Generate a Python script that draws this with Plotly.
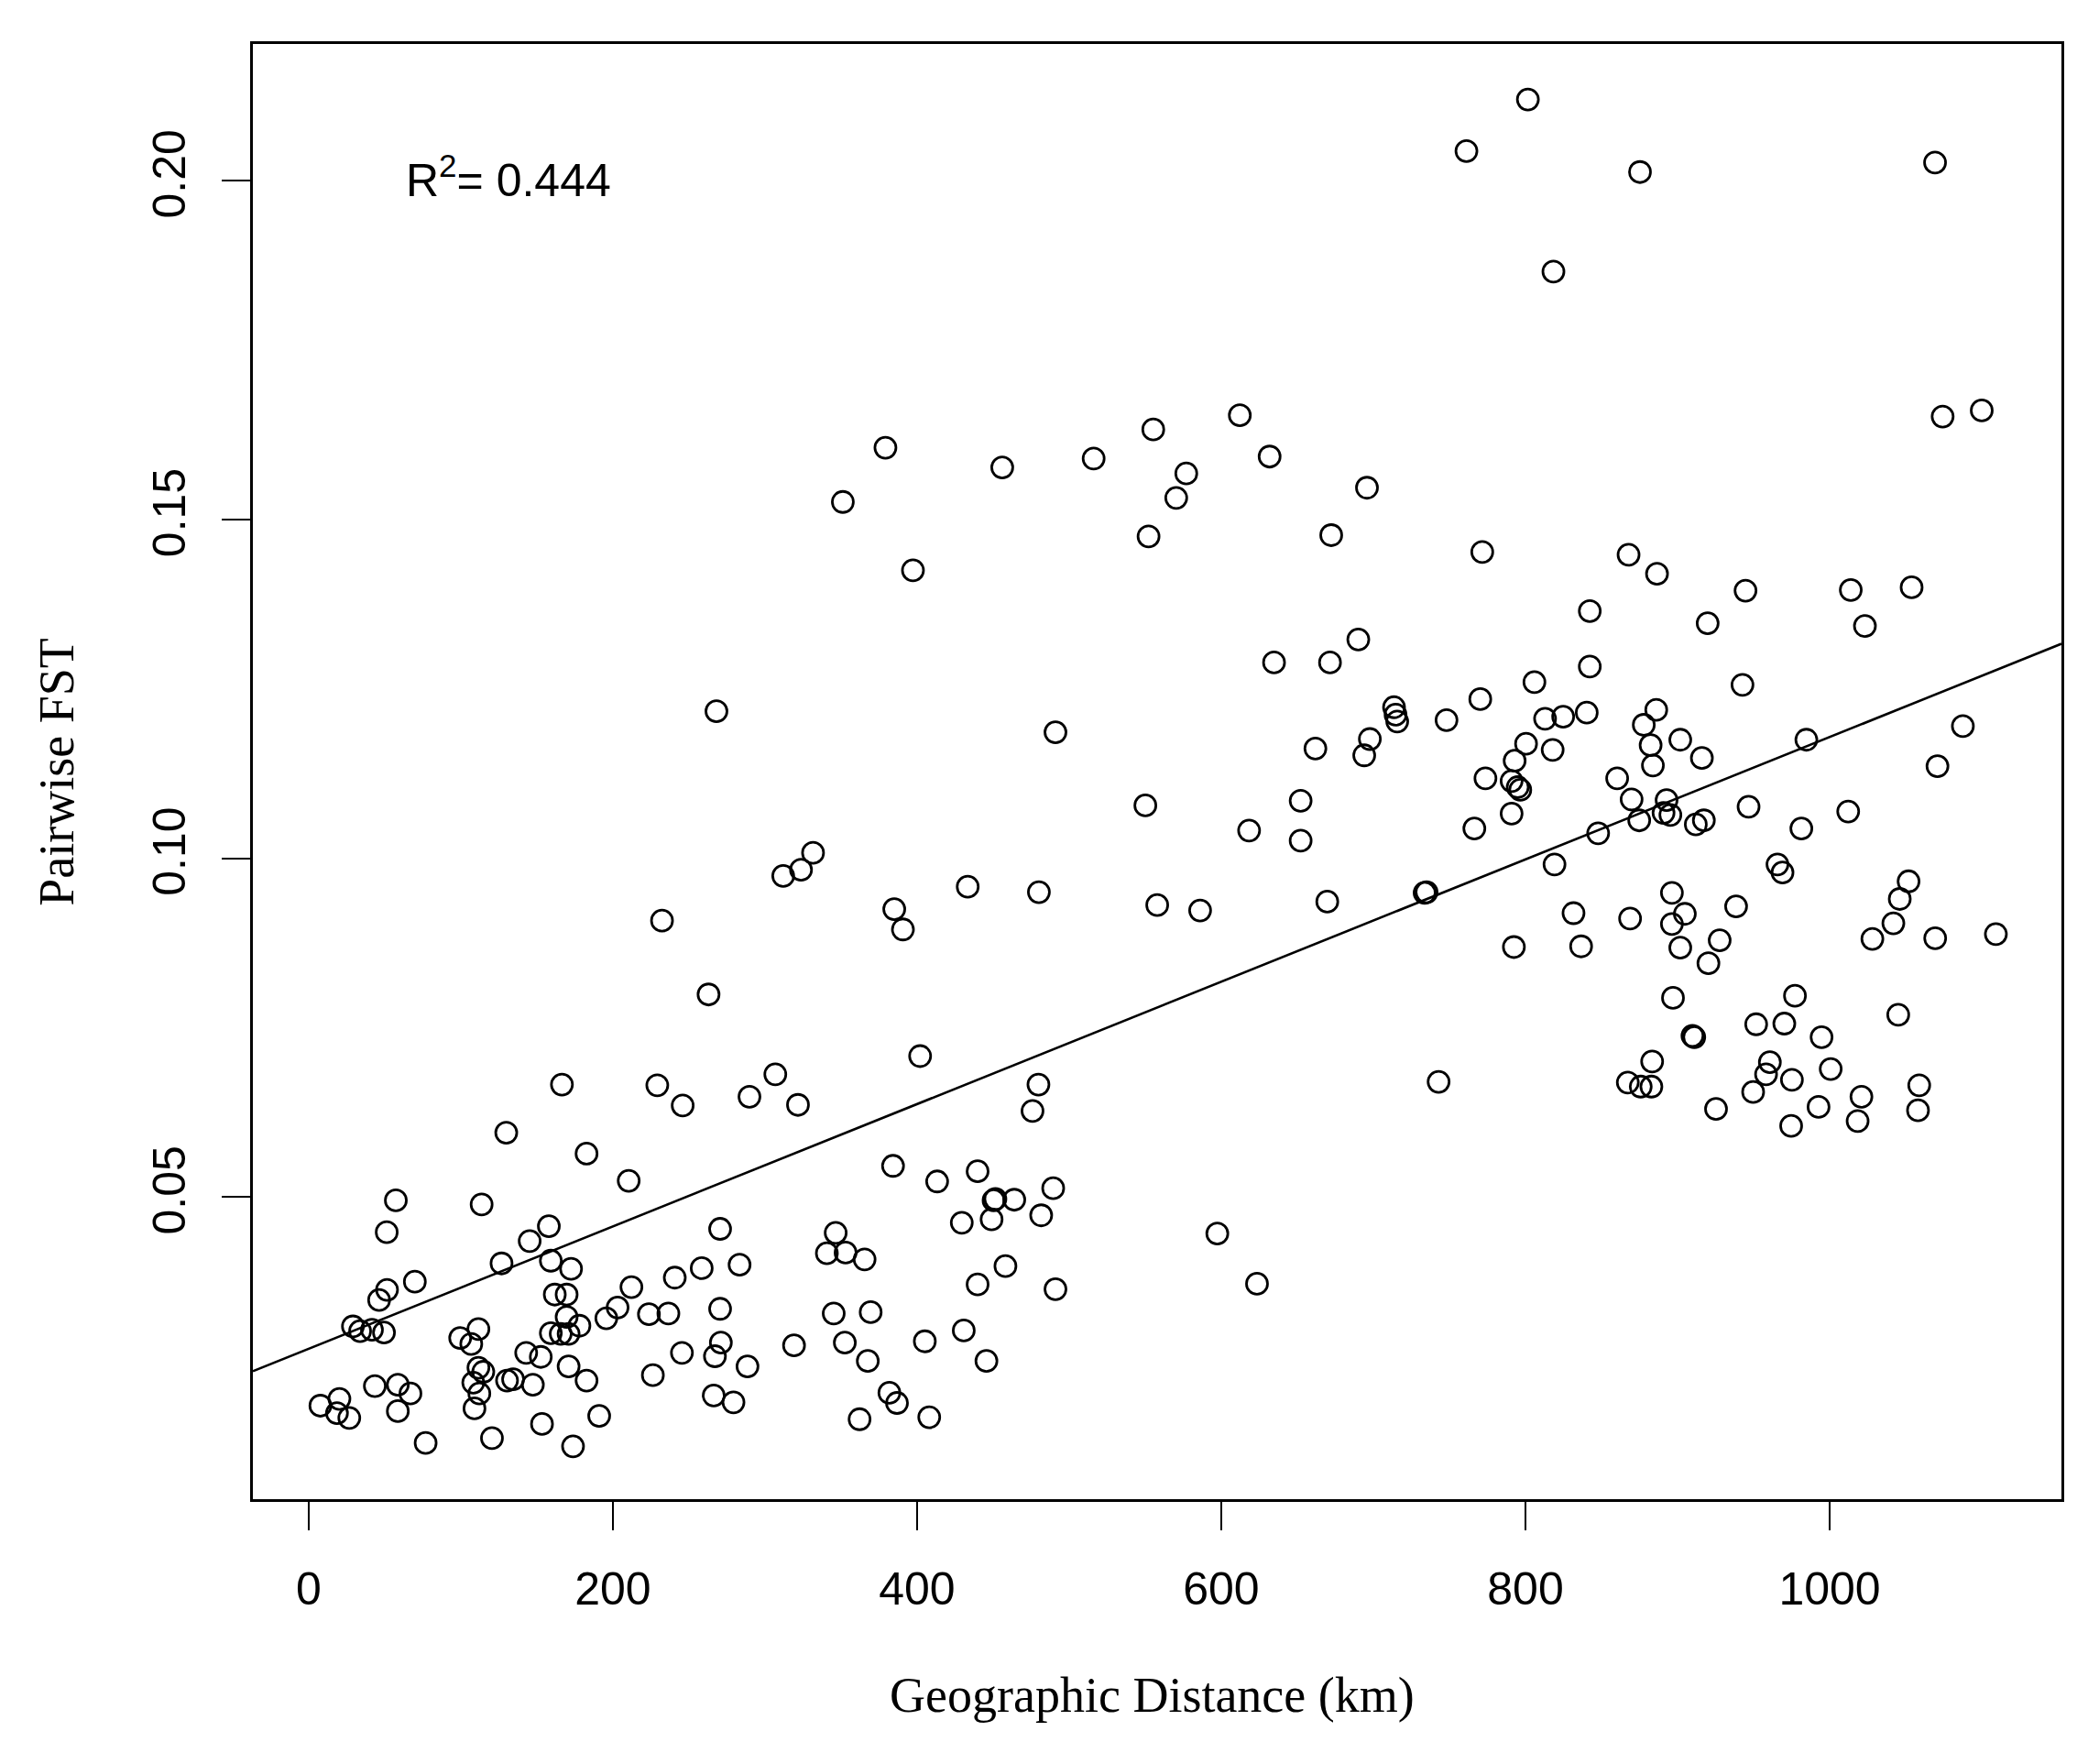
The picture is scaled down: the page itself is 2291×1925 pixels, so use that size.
import plotly.graph_objects as go

# Pairwise FST vs geographic distance
distance_km = [
    166.5, 229.2, 245.9, 289.8, 306.8, 321.7, 129.9, 182.7, 210.4, 57.3,
    113.7, 51.3, 157.9, 145.3, 126.8, 159.2, 172.5, 270.5, 346.5, 340.7,
    353.0, 365.5, 51.5, 46.3, 69.8, 29.1, 33.8, 41.6, 49.5, 161.8,
    169.6, 169.6, 178.0, 159.2, 165.7, 170.9, 111.6, 99.6, 106.9, 212.2,
    203.1, 195.7, 223.7, 236.5, 240.7, 258.4, 283.3, 270.5, 345.2, 369.5,
    143.0, 152.6, 170.9, 182.7, 111.6, 114.8, 108.2, 112.2, 109.0, 130.4,
    134.4, 147.4, 43.5, 58.6, 66.9, 58.6, 7.7, 20.2, 18.6, 26.7,
    76.9, 120.5, 153.4, 173.8, 191.0, 226.3, 245.4, 271.0, 267.1, 288.5,
    266.3, 279.3, 319.1, 352.5, 367.6, 362.2,
    268.1, 331.6, 323.7, 312.0, 232.3, 262.9, 351.2,
    761.2, 379.2, 456.0, 516.1, 555.3, 612.2, 631.8, 577.0, 570.4, 695.8,
    801.6, 875.3, 1069.3, 818.4, 1074.3, 1100.0,
    552.2, 672.3, 771.6, 397.3, 690.1, 634.7, 671.5, 770.3, 713.6, 714.6,
    715.7, 748.1, 697.7, 694.0, 661.9, 491.0, 773.7, 550.1, 652.2, 618.3,
    652.2, 766.4, 733.7, 735.0, 433.3, 480.1, 385.0, 390.7, 557.9, 586.1,
    669.7,
    402.0, 479.8, 475.9, 742.9, 384.2, 413.2, 439.8, 489.5, 450.3, 451.5,
    463.9, 449.0, 429.4, 481.6, 597.4, 623.5, 458.1, 439.8, 491.0, 430.7,
    405.1, 445.6, 381.8, 386.8, 408.0,
    867.8, 886.5, 944.7, 1013.9, 1053.9, 842.3, 919.8, 1023.2, 842.3, 805.9,
    942.7, 812.9, 824.8, 840.3, 886.0, 877.8, 882.3, 883.8, 901.8, 916.0,
    800.4, 817.9, 792.9, 790.9, 794.9, 796.6, 790.9, 860.3, 869.8, 892.8,
    890.8, 895.3, 874.8, 847.8, 912.0, 917.3, 984.7, 1087.6, 1070.9, 946.7,
    1012.2, 981.4, 819.1, 965.7, 969.0, 1051.9, 1046.1, 1041.9, 1028.1, 1069.4,
    1109.3, 896.3, 904.8, 896.3, 901.8, 927.7, 920.3, 938.5, 831.6, 868.8,
    792.4, 836.6, 897.0, 977.2, 1045.1,
    909.8, 911.0, 951.7, 970.2, 994.7, 883.3, 867.3, 875.8, 882.8, 960.7,
    958.2, 975.2, 1000.7, 949.7, 925.3, 992.7, 974.7, 1020.9, 1018.4, 1058.9,
    1058.1,
]
pairwise_fst = [
    0.0666, 0.0665, 0.0635, 0.0648, 0.0681, 0.0636, 0.0595, 0.0564, 0.0524, 0.0495,
    0.0489, 0.0448, 0.0457, 0.0435, 0.0402, 0.0406, 0.0394, 0.0453, 0.0447, 0.0417,
    0.0418, 0.0408, 0.0363, 0.0348, 0.0375, 0.0309, 0.0302, 0.0304, 0.0300, 0.0356,
    0.0356, 0.0323, 0.0310, 0.0299, 0.0298, 0.0298, 0.0305, 0.0292, 0.0283, 0.0367,
    0.0337, 0.0321, 0.0327, 0.0328, 0.0381, 0.0395, 0.0400, 0.0335, 0.0328, 0.0330,
    0.0270, 0.0264, 0.0250, 0.0229, 0.0248, 0.0242, 0.0226, 0.0210, 0.0188, 0.0229,
    0.0231, 0.0223, 0.0221, 0.0223, 0.0210, 0.0184, 0.0192, 0.0202, 0.0181, 0.0174,
    0.0137, 0.0144, 0.0165, 0.0132, 0.0177, 0.0237, 0.0270, 0.0285, 0.0265, 0.0250,
    0.0207, 0.0197, 0.0281, 0.0285, 0.0258, 0.0172,
    0.1217, 0.1008, 0.0983, 0.0974, 0.0908, 0.0799, 0.1526,
    0.2044, 0.1606, 0.1577, 0.1590, 0.1633, 0.1654, 0.1593, 0.1568, 0.1532, 0.1547,
    0.2120, 0.2013, 0.2027, 0.1866, 0.1652, 0.1661,
    0.1475, 0.1477, 0.1452, 0.1425, 0.1323, 0.1289, 0.1289, 0.1235, 0.1223, 0.1212,
    0.1202, 0.1204, 0.1176, 0.1152, 0.1162, 0.1186, 0.1118, 0.1078, 0.1085, 0.1041,
    0.1026, 0.1044, 0.0949, 0.0950, 0.0958, 0.0950, 0.0925, 0.0895, 0.0931, 0.0923,
    0.0936,
    0.0708, 0.0666, 0.0627, 0.0670, 0.0546, 0.0523, 0.0538, 0.0513, 0.0495, 0.0497,
    0.0496, 0.0467, 0.0462, 0.0473, 0.0446, 0.0372, 0.0398, 0.0371, 0.0364, 0.0303,
    0.0287, 0.0258, 0.0211, 0.0196, 0.0175,
    0.1448, 0.1420, 0.1395, 0.1396, 0.1400, 0.1365, 0.1347, 0.1343, 0.1283, 0.1260,
    0.1256, 0.1206, 0.1209, 0.1215, 0.1219, 0.1197, 0.1167, 0.1137, 0.1175, 0.1148,
    0.1169, 0.1160, 0.1144, 0.1114, 0.1105, 0.1101, 0.1066, 0.1118, 0.1087, 0.1086,
    0.1067, 0.1064, 0.1056, 0.1037, 0.1050, 0.1056, 0.1175, 0.1195, 0.1136, 0.1076,
    0.1069, 0.1044, 0.0991, 0.0991, 0.0979, 0.0966, 0.0940, 0.0904, 0.0881, 0.0882,
    0.0888, 0.0949, 0.0918, 0.0903, 0.0868, 0.0879, 0.0845, 0.0929, 0.0919, 0.0911,
    0.0869, 0.0870, 0.0794, 0.0797, 0.0769,
    0.0738, 0.0736, 0.0755, 0.0756, 0.0736, 0.0700, 0.0669, 0.0663, 0.0663, 0.0699,
    0.0681, 0.0673, 0.0689, 0.0655, 0.0630, 0.0633, 0.0605, 0.0648, 0.0612, 0.0665,
    0.0628,
]

# regression line as drawn in the figure
fit_intercept = 0.0276
fit_slope = 9.03e-5
r_squared = 0.444

x_range = [-36.7, 1152.4]
y_range = [0.0054, 0.2202]
x_ticks = [0, 200, 400, 600, 800, 1000]
y_ticks = [0.05, 0.10, 0.15, 0.20]

SANS = "Liberation Sans, Arial, sans-serif"
SERIF = "Liberation Serif, Times New Roman, serif"

fig = go.Figure()
fig.add_trace(go.Scatter(
    x=distance_km,
    y=pairwise_fst,
    mode="markers",
    marker=dict(symbol="circle-open", size=23, color="black", line=dict(width=2.8)),
    showlegend=False,
))
fig.add_trace(go.Scatter(
    x=x_range,
    y=[fit_intercept + fit_slope * v for v in x_range],
    mode="lines",
    line=dict(color="black", width=2.6),
    showlegend=False,
))

axis_common = dict(
    showline=True, linecolor="black", linewidth=3, mirror=True,
    ticks="outside", ticklen=31, tickwidth=2, tickcolor="black",
    showgrid=False, zeroline=False,
    tickfont=dict(family=SANS, size=50, color="black"),
)
fig.update_xaxes(range=x_range, tickvals=x_ticks, ticklabelstandoff=21, **axis_common)
fig.update_yaxes(range=y_range, tickvals=y_ticks, tickformat=".2f", tickangle=-90,
                 ticklabelstandoff=20, **axis_common)

fig.add_annotation(
    text=f"R<sup>2</sup>= {r_squared:.3f}",
    xref="paper", yref="paper", x=0.0836, y=0.9087,
    xanchor="left", yanchor="middle", showarrow=False,
    font=dict(family=SANS, size=50, color="black"),
)
fig.add_annotation(
    text="Geographic Distance (km)",
    xref="paper", yref="paper", x=0.497, y=-0.1348,
    xanchor="center", yanchor="middle", showarrow=False,
    font=dict(family=SERIF, size=54, color="black"),
)
fig.add_annotation(
    text="Pairwise FST",
    xref="paper", yref="paper", x=-0.1085, y=0.5,
    xanchor="center", yanchor="middle", textangle=-90, showarrow=False,
    font=dict(family=SERIF, size=54, color="black"),
)

# page body adds an 8 px offset, so margins are shifted to keep the plot box in place
fig.update_layout(
    width=2291, height=1925,
    margin=dict(l=268, r=49, t=40, b=297),
    plot_bgcolor="white", paper_bgcolor="white",
)

fig.write_html("out.html")
